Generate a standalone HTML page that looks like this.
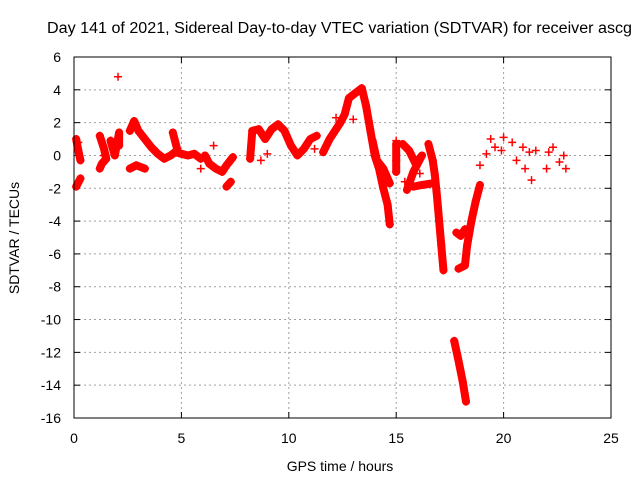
<!DOCTYPE html>
<html><head><meta charset="utf-8"><style>body{margin:0;background:#fff}svg{display:block;font-family:"Liberation Sans",sans-serif}</style></head>
<body>
<svg id="chart" width="640" height="480" viewBox="0 0 640 480"></svg>
<script>
// Data: tracks of [hour, TECU]
const tracksT = [
 [0.1,0.2,0.3],
 [0.1,0.3],
 [1.2,1.4,1.5,1.3,1.2],
 [1.7,1.9,2.1,2.1],
 [2.6,2.8,3.0,3.3,3.6,3.9,4.2,4.5,4.7,5.0,5.3,5.6,5.9],
 [4.6,4.8],
 [2.6,2.9,3.3],
 [6.1,6.3,6.6,6.9,7.1,7.4],
 [7.1,7.3],
 [8.2,8.3,8.6,8.9,9.2,9.5,9.8,10.1,10.4,10.7,11.0,11.3],
 [11.6,11.9,12.2,12.4,12.6,12.8,13.1,13.4,13.6,13.8,14.0,14.2,14.4,14.6,14.7],
 [13.9,14.1,14.4,14.7],
 [15.0,15.0,15.0],
 [15.3,15.6,15.9,16.2,15.8,15.5],
 [15.8,16.2,16.7],
 [16.5,16.7,16.8,16.9,17.0,17.1,17.2],
 [17.9,18.2,18.3,18.5,18.7,18.9],
 [17.8,18.0,18.2],
 [17.7,17.9,18.1,18.25]
];
const tracksV = [
 [1.0,0.3,-0.3],
 [-1.9,-1.4],
 [1.2,0.4,-0.2,-0.5,-0.8],
 [0.9,0.0,1.4,0.6],
 [1.5,2.1,1.5,1.0,0.5,0.1,-0.2,0.0,0.2,0.1,0.0,0.1,-0.2],
 [1.4,0.4],
 [-0.8,-0.6,-0.8],
 [0.0,-0.5,-0.8,-1.0,-0.6,-0.1],
 [-1.9,-1.6],
 [-0.2,1.5,1.6,1.0,1.6,1.9,1.5,0.6,0.0,0.4,1.0,1.2],
 [0.2,1.0,1.6,2.0,2.5,3.5,3.8,4.1,3.0,1.5,0.0,-0.8,-2.0,-3.0,-4.2],
 [0.9,-0.3,-0.8,-1.7],
 [0.7,-0.3,-1.0],
 [0.7,0.3,-0.5,0.0,-1.0,-2.1],
 [-1.9,-1.8,-1.7],
 [0.7,-0.3,-1.2,-2.5,-4.0,-5.5,-7.0],
 [-6.9,-6.7,-5.5,-4.0,-2.8,-1.8],
 [-4.7,-4.9,-4.5],
 [-11.3,-12.5,-13.8,-15.0]
];
const scatterT = [2.05,0.2,1.4,5.9,6.5,8.7,9.0,11.2,12.2,13.0,15.0,15.4,16.1,18.9,19.2,19.4,19.6,19.9,20.0,20.4,20.6,20.9,21.0,21.2,21.3,21.5,22.0,22.1,22.3,22.6,22.8,22.9];
const scatterV = [4.8,0.8,0.0,-0.8,0.6,-0.3,0.1,0.4,2.3,2.2,0.9,-1.6,-1.1,-0.6,0.1,1.0,0.5,0.3,1.1,0.8,-0.3,0.5,-0.8,0.2,-1.5,0.3,-0.8,0.2,0.5,-0.4,0.0,-0.8];
const xTicks = [0,5,10,15,20,25];
const yTicks = [6,4,2,0,-2,-4,-6,-8,-10,-12,-14,-16];

const L=74,R=611,T=57,B=418;
const xS=t=>L+(t-0)/(25-0)*(R-L);
const yS=v=>T+(6-v)/(6-(-16))*(B-T);
const svg=document.getElementById('chart');
const NS='http://www.w3.org/2000/svg';
function mk(tag,attrs,parent){const e=document.createElementNS(NS,tag);for(const k in attrs)e.setAttribute(k,attrs[k]);(parent||svg).appendChild(e);return e;}

const grid=mk('g',{});


xTicks.forEach(t=>{
 if(t>0&&t<25)mk('line',{x1:xS(t),x2:xS(t),y1:T,y2:B,stroke:'#a0a0a0','stroke-dasharray':'2,3'},grid);
 mk('line',{x1:xS(t),x2:xS(t),y1:B,y2:B-6,stroke:'#000'},grid);
 mk('line',{x1:xS(t),x2:xS(t),y1:T,y2:T+6,stroke:'#000'},grid);
 const tx=mk('text',{x:xS(t),y:B+25,'text-anchor':'middle','font-size':14});
 tx.textContent=t;
 
 
});
yTicks.forEach(v=>{
 if(v<6&&v>-16)mk('line',{x1:L,x2:R,y1:yS(v),y2:yS(v),stroke:'#a0a0a0','stroke-dasharray':'2,3'},grid);
 mk('line',{x1:L,x2:L+6,y1:yS(v),y2:yS(v),stroke:'#000'},grid);
 mk('line',{x1:R,x2:R-6,y1:yS(v),y2:yS(v),stroke:'#000'},grid);
 const tx=mk('text',{x:L-13,y:yS(v)+5,'text-anchor':'end','font-size':14});
 tx.textContent=v;
 
 
});

const series=mk('g',{});


function plus(t,v){
 const x=xS(t),y=yS(v);
 const p=mk('path',{d:`M${x-4},${y}H${x+4}M${x},${y-4}V${y+4}`,stroke:'#f00','stroke-width':1.5},series);
 
 
}
tracksT.forEach((ts,i)=>{
 const vs=tracksV[i];
 const pl=mk('polyline',{points:ts.map((t,j)=>xS(t)+','+yS(vs[j])).join(' '),fill:'none',stroke:'#f00','stroke-width':8,'stroke-linejoin':'round','stroke-linecap':'round'},series);
 
 
 ts.forEach((t,j)=>plus(t,vs[j]));
});
scatterT.forEach((t,i)=>plus(t,scatterV[i]));

const box=mk('rect',{x:L,y:T,width:R-L,height:B-T,fill:'none',stroke:'#000'});



const title=mk('text',{x:47,y:33,'text-anchor':'start','font-size':15.5,textLength:585,lengthAdjust:'spacingAndGlyphs'});
title.textContent='Day 141 of 2021, Sidereal Day-to-day VTEC variation (SDTVAR) for receiver ascg';


const xl=mk('text',{x:340,y:471,'text-anchor':'middle','font-size':14});
xl.textContent='GPS time / hours';


const yl=mk('text',{x:0,y:0,'text-anchor':'middle','font-size':14,transform:'translate(19,238) rotate(-90)'});
yl.textContent='SDTVAR / TECUs';


</script>
</body></html>
